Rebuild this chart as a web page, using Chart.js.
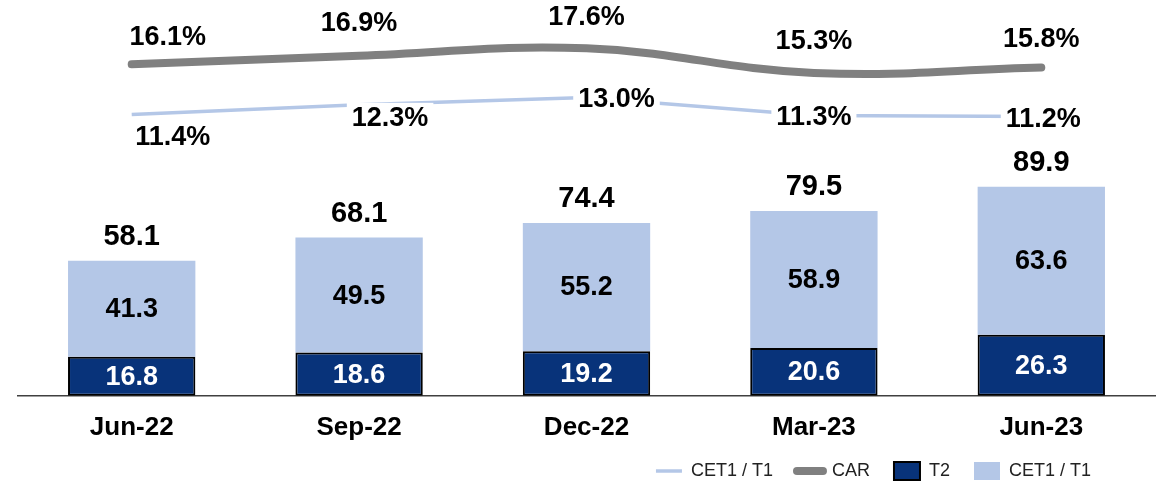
<!DOCTYPE html>
<html>
<head>
<meta charset="utf-8">
<script src="https://cdn.jsdelivr.net/npm/chart.js@4.4.0/dist/chart.umd.min.js"></script>
<style>
    html, body { margin: 0; padding: 0; background: #fff; }
    #wrap { width: 1168px; height: 481px; position: relative; }
</style>
</head>
<body>
<div id="wrap"><canvas id="capitalChart"></canvas></div>
<script>
const quarters = ['Jun-22', 'Sep-22', 'Dec-22', 'Mar-23', 'Jun-23'];
const t2Values = [16.8, 18.6, 19.2, 20.6, 26.3];
const cet1Values = [41.3, 49.5, 55.2, 58.9, 63.6];
const totalValues = [58.1, 68.1, 74.4, 79.5, 89.9];
const carRatio = [16.1, 16.9, 17.6, 15.3, 15.8];
const cet1Ratio = [11.4, 12.3, 13.0, 11.3, 11.2];

const DARK = '#08337a';
const LIGHT = '#b4c7e7';
const GREY = '#808080';
const FONT = "'Liberation Sans', Arial, sans-serif";

// label placement relative to each point (layout only)
const carShift = [[36, -27], [0, -32], [0, -31], [0, -31], [0, -28]];
const cet1Shift = [[41, 22], [31, 13], [30, 1], [0, 1], [2, 2]];

const labelPlugin = {
    id: 'valueLabels',
    afterDatasetsDraw(chart) {
        const ctx = chart.ctx;
        ctx.save();
        ctx.textAlign = 'center';
        ctx.textBaseline = 'middle';

        // stacked bar segments
        const t2Meta = chart.getDatasetMeta(2);
        const cetMeta = chart.getDatasetMeta(3);
        ctx.font = 'bold 27px ' + FONT;
        t2Meta.data.forEach((bar, i) => {
            ctx.fillStyle = '#fff';
            ctx.fillText(t2Values[i].toFixed(1), bar.x, (bar.y + bar.base) / 2 + 1);
        });
        cetMeta.data.forEach((bar, i) => {
            ctx.fillStyle = '#000';
            ctx.font = 'bold 27px ' + FONT;
            ctx.fillText(cet1Values[i].toFixed(1), bar.x, (bar.y + bar.base) / 2 + 1);
            ctx.font = 'bold 29px ' + FONT;
            ctx.fillText(totalValues[i].toFixed(1), bar.x, bar.y - 24);
        });

        // ratio lines
        ctx.font = 'bold 27px ' + FONT;
        const carMeta = chart.getDatasetMeta(1);
        carMeta.data.forEach((pt, i) => {
            ctx.fillStyle = '#000';
            ctx.fillText(carRatio[i].toFixed(1) + '%', pt.x + carShift[i][0], pt.y + carShift[i][1]);
        });
        const cetLineMeta = chart.getDatasetMeta(0);
        cetLineMeta.data.forEach((pt, i) => {
            const txt = cet1Ratio[i].toFixed(1) + '%';
            const x = pt.x + cet1Shift[i][0];
            const y = pt.y + cet1Shift[i][1];
            const w = ctx.measureText(txt).width + 10;
            ctx.fillStyle = '#fff';
            ctx.fillRect(x - w / 2, y - 15, w, 30);
            ctx.fillStyle = '#000';
            ctx.fillText(txt, x, y + 1);
        });
        ctx.restore();
    }
};

// move the legend in from the right edge and back up onto the canvas
const legendShift = {
    id: 'legendShift',
    afterLayout(chart) {
        const lg = chart.legend;
        lg.left -= 40;
        lg.right -= 40;
        lg.top -= 21;
        lg.bottom -= 21;
    }
};

function buildLegendItems(chart) {
    return chart.data.datasets.map((ds, i) => {
        const isLine = ds.type === 'line';
        return {
            text: ds.label,
            datasetIndex: i,
            fillStyle: isLine ? ds.borderColor : ds.backgroundColor,
            strokeStyle: isLine ? ds.borderColor : (ds.borderColor || ds.backgroundColor),
            lineWidth: ds.borderWidth || 0,
            lineCap: isLine ? (ds.borderCapStyle || 'butt') : 'butt',
            pointStyle: isLine ? 'line' : 'rect',
            fontColor: '#222',
            hidden: false
        };
    });
}

const ctx = document.getElementById('capitalChart').getContext('2d');
new Chart(ctx, {
    type: 'bar',
    data: {
        labels: quarters,
        datasets: [
            {
                type: 'line',
                label: 'CET1 / T1',
                data: cet1Ratio,
                yAxisID: 'y2',
                borderColor: LIGHT,
                borderWidth: 3.5,
                pointRadius: 0,
                tension: 0,
                order: 0
            },
            {
                type: 'line',
                label: 'CAR',
                data: carRatio,
                yAxisID: 'y2',
                borderColor: GREY,
                borderWidth: 8,
                borderCapStyle: 'round',
                pointRadius: 0,
                tension: 0.4,
                order: 0
            },
            {
                label: 'T2',
                data: t2Values,
                backgroundColor: DARK,
                borderColor: '#000',
                borderWidth: 2,
                borderSkipped: false,
                order: 1
            },
            {
                label: 'CET1 / T1',
                data: cet1Values,
                backgroundColor: LIGHT,
                borderWidth: 0,
                order: 1
            }
        ]
    },
    options: {
        responsive: true,
        maintainAspectRatio: false,
        animation: false,
        layout: { padding: { left: 18, right: 13, top: 10, bottom: -30 } },
        datasets: { bar: { categoryPercentage: 1, barPercentage: 0.56 } },
        scales: {
            x: {
                stacked: true,
                grid: { display: false, drawTicks: false },
                border: { display: true, color: '#404040', width: 1.5 },
                ticks: {
                    color: '#000',
                    padding: 16,
                    font: { family: FONT, size: 26, weight: 'bold' }
                }
            },
            y: { stacked: true, display: false, min: 0, max: 166 },
            y2: { display: false, min: -15, max: 21.2 }
        },
        plugins: {
            tooltip: { enabled: false },
            legend: {
                position: 'bottom',
                align: 'end',
                labels: {
                    usePointStyle: true,
                    pointStyleWidth: 26,
                    boxHeight: 20,
                    padding: 24,
                    color: '#222',
                    font: { family: FONT, size: 18 },
                    generateLabels: buildLegendItems
                }
            }
        }
    },
    plugins: [labelPlugin, legendShift]
});
</script>
</body>
</html>
